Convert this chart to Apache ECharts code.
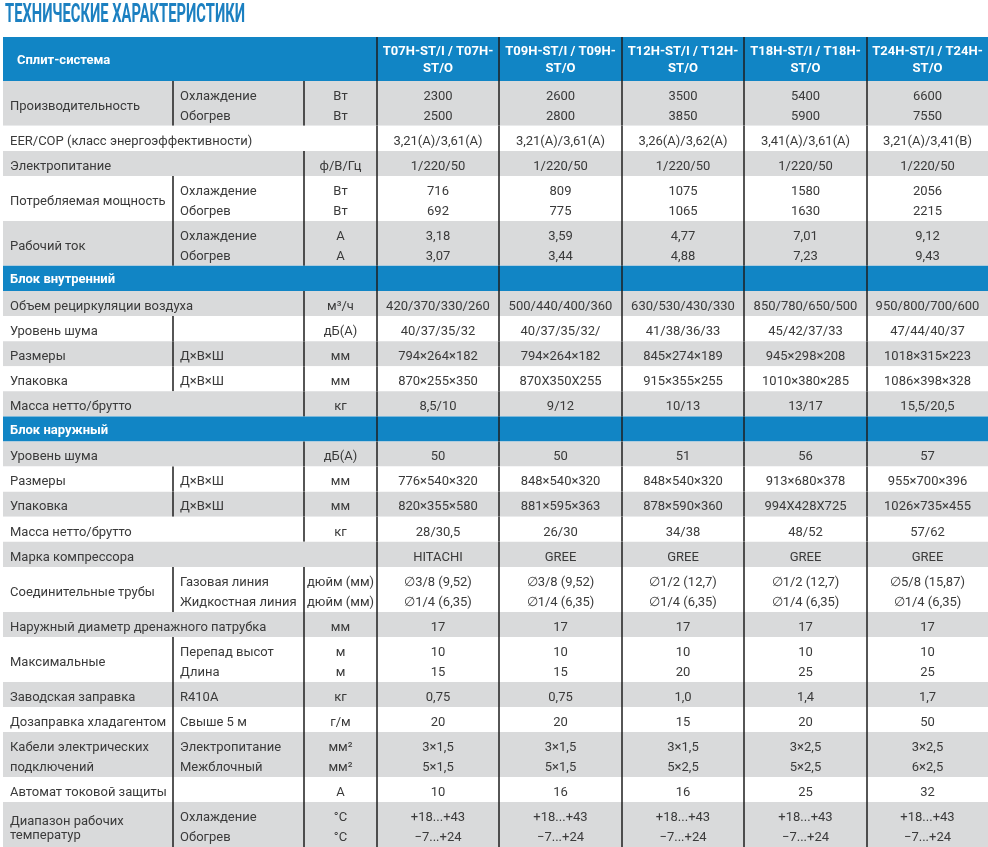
<!DOCTYPE html>
<html>
<head>
<meta charset="utf-8">
<script src="https://cdn.jsdelivr.net/npm/echarts@6/dist/echarts.min.js"></script>
<style>
  html, body { margin: 0; padding: 0; background: #fff; }
  #chart { width: 988px; height: 847px; }
</style>
</head>
<body>
<div id="chart"></div>
<script>
// заголовки колонок
var models = ['T07H-ST/I / T07H-ST/O', 'T09H-ST/I / T09H-ST/O', 'T12H-ST/I / T12H-ST/O', 'T18H-ST/I / T18H-ST/O', 'T24H-ST/I / T24H-ST/O'];

var rowLabels = [
  'Производительность',
  'EER/COP (класс энергоэффективности)',
  'Электропитание',
  'Потребляемая мощность',
  'Рабочий ток',
  'Блок внутренний',
  'Объем рециркуляции воздуха',
  'Уровень шума',
  'Размеры',
  'Упаковка',
  'Масса нетто/брутто',
  'Блок наружный',
  'Уровень шума',
  'Размеры',
  'Упаковка',
  'Масса нетто/брутто',
  'Марка компрессора',
  'Соединительные трубы',
  'Наружный диаметр дренажного патрубка',
  'Максимальные',
  'Заводская заправка',
  'Дозаправка хладагентом',
  'Кабели электрических\nподключений',
  'Автомат токовой защиты',
  'Диапазон рабочих\nтемператур'
];

var subLabels = ['Охлаждение\nОбогрев', '', '', 'Охлаждение\nОбогрев', 'Охлаждение\nОбогрев', '', '', '', 'Д×В×Ш', 'Д×В×Ш', '', '', '', 'Д×В×Ш', 'Д×В×Ш', '', '', 'Газовая линия\nЖидкостная линия', '', 'Перепад высот\nДлина', 'R410A', 'Свыше 5 м', 'Электропитание\nМежблочный', '', 'Охлаждение\nОбогрев'];

var unitLabels = ['Вт\nВт', '', 'ф/В/Гц', 'Вт\nВт', 'А\nА', '', 'м³/ч', 'дБ(А)', 'мм', 'мм', 'кг', '', 'дБ(А)', 'мм', 'мм', 'кг', '', 'дюйм (мм)\nдюйм (мм)', 'мм', 'м\nм', 'кг', 'г/м', 'мм²\nмм²', 'А', '°C\n°C'];

// 0 - раздел, 1 - три колонки, 2 - название + единицы, 3 - название на всю ширину
var labelSpan = [1, 3, 2, 1, 1, 0, 2, 1, 1, 1, 2, 0, 2, 1, 1, 2, 3, 1, 2, 1, 1, 1, 1, 1, 1];

var t07h = ['2300\n2500', '3,21(A)/3,61(A)', '1/220/50', '716\n692', '3,18\n3,07', '', '420/370/330/260', '40/37/35/32', '794×264×182', '870×255×350', '8,5/10', '', '50', '776×540×320', '820×355×580', '28/30,5', 'HITACHI', '∅3/8 (9,52)\n∅1/4 (6,35)', '17', '10\n15', '0,75', '20', '3×1,5\n5×1,5', '10', '+18...+43\n−7...+24'];
var t09h = ['2600\n2800', '3,21(A)/3,61(A)', '1/220/50', '809\n775', '3,59\n3,44', '', '500/440/400/360', '40/37/35/32/', '794×264×182', '870X350X255', '9/12', '', '50', '848×540×320', '881×595×363', '26/30', 'GREE', '∅3/8 (9,52)\n∅1/4 (6,35)', '17', '10\n15', '0,75', '20', '3×1,5\n5×1,5', '16', '+18...+43\n−7...+24'];
var t12h = ['3500\n3850', '3,26(A)/3,62(A)', '1/220/50', '1075\n1065', '4,77\n4,88', '', '630/530/430/330', '41/38/36/33', '845×274×189', '915×355×255', '10/13', '', '51', '848×540×320', '878×590×360', '34/38', 'GREE', '∅1/2 (12,7)\n∅1/4 (6,35)', '17', '10\n20', '1,0', '15', '3×1,5\n5×2,5', '16', '+18...+43\n−7...+24'];
var t18h = ['5400\n5900', '3,41(A)/3,61(A)', '1/220/50', '1580\n1630', '7,01\n7,23', '', '850/780/650/500', '45/42/37/33', '945×298×208', '1010×380×285', '13/17', '', '56', '913×680×378', '994X428X725', '48/52', 'GREE', '∅1/2 (12,7)\n∅1/4 (6,35)', '17', '10\n25', '1,4', '20', '3×2,5\n5×2,5', '25', '+18...+43\n−7...+24'];
var t24h = ['6600\n7550', '3,21(A)/3,41(B)', '1/220/50', '2056\n2215', '9,12\n9,43', '', '950/800/700/600', '47/44/40/37', '1018×315×223', '1086×398×328', '15,5/20,5', '', '57', '955×700×396', '1026×735×455', '57/62', 'GREE', '∅5/8 (15,87)\n∅1/4 (6,35)', '17', '10\n25', '1,7', '50', '3×2,5\n6×2,5', '32', '+18...+43\n−7...+24'];

var columns = [t07h, t09h, t12h, t18h, t24h];

// раскладка таблицы
var colEdges = [0, 170, 301, 374, 496, 619, 741, 864, 985];
var unitPx = 25.15;
var headUnits = 1.75, doubleUnits = 1.79;
var blue = '#1185c5', grey = '#d9dadb', ink = '#3a3a3a', rule = '#1e1e1e';

var rows = [{ head: true, y0: 0, y1: headUnits }];
var acc = headUnits;
rowLabels.forEach(function (label, i) {
  var cells = [label, subLabels[i], unitLabels[i]].concat(columns.map(function (c) { return c[i]; }));
  var dbl = cells.some(function (s) { return s.indexOf('\n') >= 0; });
  var h = dbl ? doubleUnits : 1;
  rows.push({ idx: i, y0: acc, y1: acc + h });
  acc += h;
});
var totalUnits = acc;

function txt(text, x, y, align, font, fill, lh) {
  return {
    type: 'text',
    style: { text: text, x: x, y: y, align: align, verticalAlign: 'middle', font: font, fill: fill, lineHeight: lh || 20 }
  };
}

function renderRow(params, api) {
  var r = rows[api.value(0)];
  var y0 = api.coord([0, r.y0])[1], y1 = api.coord([0, r.y1])[1];
  var yc = (y0 + y1) / 2 + 3;
  var xs = colEdges.map(function (c) { return api.coord([c, 0])[0]; });
  var kids = [];
  var span = r.head ? 0 : labelSpan[r.idx];
  var bg = (r.head || span === 0) ? blue : (r.idx % 2 === 0 ? grey : '#ffffff');
  kids.push({ type: 'rect', shape: { x: xs[0], y: y0, width: xs[8] - xs[0], height: y1 - y0 }, style: { fill: bg } });

  if (r.head) {
    kids.push(txt('Сплит-система', xs[0] + 14, (y0 + y1) / 2 + 1.5, 'left', '700 13px Roboto', '#ffffff'));
    models.forEach(function (m, k) {
      kids.push(txt(m.replace(/-(ST\/O)$/, '-\n$1'), (xs[3 + k] + xs[4 + k]) / 2, (y0 + y1) / 2 + 1.5, 'center', '700 13px Roboto', '#ffffff', 17));
    });
  } else if (span === 0) {
    kids.push(txt(rowLabels[r.idx], xs[0] + 7, yc - 1.5, 'left', '700 13px Roboto', '#ffffff'));
  } else {
    var label = rowLabels[r.idx];
    var lh = label.indexOf('температур') >= 0 ? 14 : 20;
    kids.push(txt(label, xs[0] + 7, yc + (lh === 14 ? 1 : 0), 'left', '13px Roboto', ink, lh));
    if (subLabels[r.idx]) kids.push(txt(subLabels[r.idx], xs[1] + 7, yc, 'left', '13px Roboto', ink));
    if (unitLabels[r.idx]) kids.push(txt(unitLabels[r.idx], (xs[2] + xs[3]) / 2, yc, 'center', '13px Roboto', ink));
    columns.forEach(function (c, k) {
      kids.push(txt(c[r.idx], (xs[3 + k] + xs[4 + k]) / 2, yc, 'center', '13px Roboto', ink));
    });
  }

  // вертикальные линии
  var lines = [3, 4, 5, 6, 7];
  if (span === 1) lines = [1, 2].concat(lines);
  if (span === 2) lines = [2].concat(lines);
  lines.forEach(function (k) {
    kids.push({ type: 'rect', shape: { x: xs[k] - 0.75, y: y0, width: 1.5, height: y1 - y0 }, style: { fill: rule } });
  });
  return { type: 'group', children: kids };
}

var titleText = 'ТЕХНИЧЕСКИЕ ХАРАКТЕРИСТИКИ';
var ctx = document.createElement('canvas').getContext('2d');
ctx.font = 'bold 26px Roboto';
var titleScale = 240 / ctx.measureText(titleText).width;

var myChart = echarts.init(document.getElementById('chart'));
var option = {
  animation: false,
  grid: { left: 3, top: 37, width: 985, height: totalUnits * unitPx },
  xAxis: { type: 'value', min: 0, max: 985, show: false },
  yAxis: { type: 'value', min: 0, max: totalUnits, inverse: true, show: false },
  graphic: [{
    type: 'text', x: 5, y: 2, scaleX: titleScale,
    style: { text: titleText, font: 'bold 26px Roboto', fill: '#1c80c1', verticalAlign: 'top' }
  }],
  series: [{
    type: 'custom',
    renderItem: renderRow,
    data: rows.map(function (r, i) { return [i]; }),
    encode: { x: -1, y: -1 },
    silent: true
  }]
};
option && myChart.setOption(option);
</script>
</body>
</html>
